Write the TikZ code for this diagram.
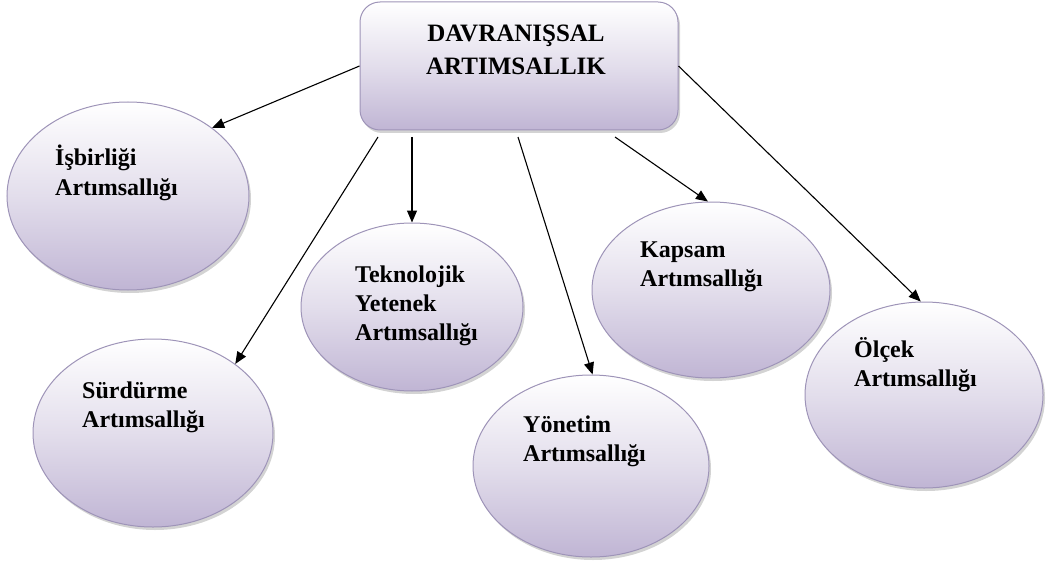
\documentclass[tikz,border=0pt]{standalone}
\usepackage{fontspec}
\setmainfont{Liberation Serif}
\usetikzlibrary{shapes.geometric,shadows,arrows.meta}
\definecolor{lav}{RGB}{192,181,212}
\definecolor{lavedge}{RGB}{158,148,184}
\tikzset{
  bubble/.style={ellipse, draw=lavedge, line width=1pt, inner sep=0pt,
    top color=white, bottom color=lav, middle color=white!55!lav,
    drop shadow={shadow xshift=2pt, shadow yshift=-3pt, opacity=0.35, fill=gray}},
  headbox/.style={draw=lavedge, line width=1pt, rounded corners=20pt, inner sep=0pt,
    top color=white, bottom color=lav, middle color=white!55!lav,
    drop shadow={shadow xshift=2pt, shadow yshift=-3pt, opacity=0.35, fill=gray}},
  lbl/.style={anchor=base west, inner sep=0pt, font=\bfseries\fontsize{24}{29}\selectfont},
  conn/.style={-{Triangle[length=12pt,width=10pt]}, line width=1.1pt, black}
}
\newcommand{\twolines}[2]{\begin{tabular}[t]{@{}l@{}}#1\\#2\end{tabular}}
\begin{document}
\begin{tikzpicture}[x=1pt,y=-1pt]
\useasboundingbox (0,0) rectangle (1051,564);
% head
\node[headbox, minimum width=318pt, minimum height=128pt] (top) at (519,66) {};
\node[anchor=base, inner sep=0pt, font=\bfseries\fontsize{25}{33}\selectfont] (toptext) at (516,42)
  {\begin{tabular}[t]{@{}c@{}}DAVRANIŞSAL\\ARTIMSALLIK\end{tabular}};
% ellipses
\node[bubble, minimum width=242pt, minimum height=188pt] (e1) at (128,196) {};
\node[bubble, minimum width=240pt, minimum height=188pt] (e2) at (153,433) {};
\node[bubble, minimum width=222pt, minimum height=168pt] (e3) at (412,307) {};
\node[bubble, minimum width=238pt, minimum height=176pt] (e4) at (711,290) {};
\node[bubble, minimum width=236pt, minimum height=182pt] (e5) at (591,466) {};
\node[bubble, minimum width=238pt, minimum height=186pt] (e6) at (924,395) {};
% labels
\node[lbl] (l1) at (55,166) {\twolines{İşbirliği}{Artımsallığı}};
\node[lbl] (l2) at (82,398) {\twolines{Sürdürme}{Artımsallığı}};
\node[lbl] (l3) at (355,282) {\begin{tabular}[t]{@{}l@{}}Teknolojik\\Yetenek\\Artımsallığı\end{tabular}};
\node[lbl] (l4) at (640,257) {\twolines{Kapsam}{Artımsallığı}};
\node[lbl] (l5) at (523,432) {\twolines{Yönetim}{Artımsallığı}};
\node[lbl] (l6) at (854,357) {\twolines{Ölçek}{Artımsallığı}};
% connector starts
\coordinate (b2) at (378,137);
\coordinate (b3) at (412,137);
\coordinate (b4) at (615,137);
\coordinate (b5) at (518,137);
% connectors
\draw[conn] (top.west) -- (e1.39);
\draw[conn] (b2) -- (e2.40);
\draw[conn] (b3) -- (e3.90);
\draw[conn] (b5) -- (e5.89);
\draw[conn] (b4) -- (e4.92);
\draw[conn] (top.east) -- (e6.92);
\end{tikzpicture}
\end{document}
